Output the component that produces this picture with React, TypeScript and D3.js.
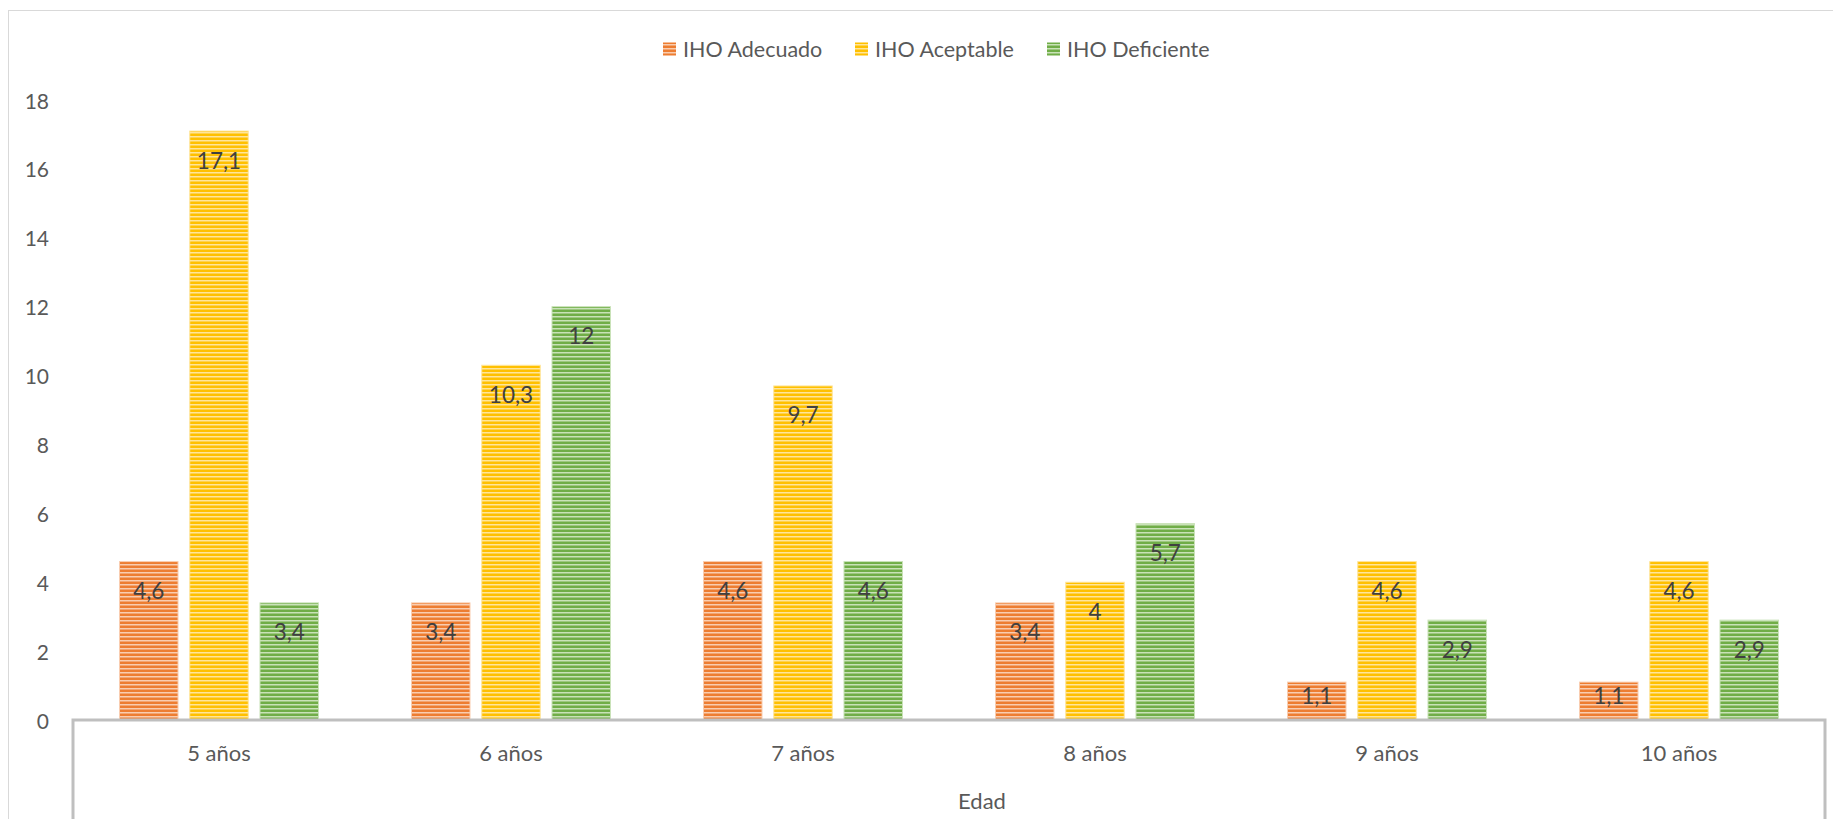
import React from "react";
import * as d3 from "d3";

const categories = ["5 años", "6 años", "7 años", "8 años", "9 años", "10 años"];
const seriesNames = ["IHO Adecuado", "IHO Aceptable", "IHO Deficiente"];
const adecuado = [4.6, 3.4, 4.6, 3.4, 1.1, 1.1];
const aceptable = [17.1, 10.3, 9.7, 4, 4.6, 4.6];
const deficiente = [3.4, 12, 4.6, 5.7, 2.9, 2.9];
const yTicks = [0, 2, 4, 6, 8, 10, 12, 14, 16, 18];
const axisTitle = "Edad";

const colors = ["#ED7D31", "#FFC000", "#70AD47"];
const lightColors = ["#F9CDB0", "#FFE59A", "#C9E2B8"];

const W = 1833;
const H = 819;
const FONT = "Lato, 'Open Sans', sans-serif";

export default function App() {
  const seriesValues = [adecuado, aceptable, deficiente];
  const plotLeft = 73;
  const plotRight = 1825;
  const baseY = 720;
  const y = d3.scaleLinear().domain([0, 18]).range([baseY, baseY - 18 * 34.44]);
  const x0 = d3
    .scaleBand<string>()
    .domain(categories)
    .range([plotLeft, plotRight])
    .paddingInner(0.3185)
    .paddingOuter(0.3185 / 2);
  const x1 = d3
    .scaleBand<string>()
    .domain(seriesNames)
    .range([0, x0.bandwidth()])
    .paddingInner(0.167)
    .paddingOuter(0);

  const legendX = [663, 855, 1047];
  const fmt = (v: number) => String(v).replace(".", ",");

  return (
    <div style={{ position: "absolute", left: 0, top: 0 }}>
      <svg width={W} height={H} style={{ display: "block", fontFamily: FONT }}>
        <defs>
          {colors.map((c, i) => (
            <pattern
              key={i}
              id={`stripe${i}`}
              patternUnits="userSpaceOnUse"
              width={8}
              height={4}
            >
              <rect x={0} y={0} width={8} height={4} fill={c} />
              <rect x={0} y={0} width={8} height={1.5} fill={lightColors[i]} />
            </pattern>
          ))}
        </defs>
        <rect x={0} y={0} width={W} height={H} fill="#ffffff" />
        <rect x={8.5} y={10.5} width={W + 100} height={H + 100} fill="none" stroke="#D9D9D9" strokeWidth={1} />

        {/* Legend */}
        {seriesNames.map((s, i) => (
          <g key={s}>
            <rect x={legendX[i]} y={42.5} width={13} height={13} fill={`url(#stripe${i})`} />
            <text x={legendX[i] + 20} y={49} dominantBaseline="central" fontSize={21.5} fill="#595959">
              {s}
            </text>
          </g>
        ))}

        {/* Y axis labels */}
        {yTicks.map((t) => (
          <text key={t} x={49} y={y(t)} textAnchor="end" dominantBaseline="central" fontSize={21} fill="#595959">
            {t}
          </text>
        ))}

        {/* Bars */}
        {categories.map((cat, ci) => (
          <g key={cat} transform={`translate(${x0(cat)},0)`}>
            {seriesNames.map((s, si) => {
              const v = seriesValues[si][ci];
              const top = y(v);
              const bx = x1(s) as number;
              const bw = x1.bandwidth();
              const ly = Math.min(top + 29, top + (baseY - top) / 2 - 6);
              return (
                <g key={s}>
                  <rect
                    x={bx}
                    y={top}
                    width={bw}
                    height={baseY - top}
                    fill={`url(#stripe${si})`}
                    stroke={lightColors[si]}
                    strokeWidth={1}
                  />
                  <text
                    x={bx + bw / 2}
                    y={ly}
                    textAnchor="middle"
                    dominantBaseline="central"
                    fontSize={22.5}
                    fill="#404040"
                  >
                    {fmt(v)}
                  </text>
                </g>
              );
            })}
          </g>
        ))}

        {/* Category axis */}
        <path
          d={`M${plotLeft},${H} V${baseY} H${plotRight} V${H}`}
          fill="none"
          stroke="#BFBFBF"
          strokeWidth={3}
        />
        {categories.map((cat) => (
          <text
            key={cat}
            x={(x0(cat) as number) + x0.bandwidth() / 2}
            y={752}
            textAnchor="middle"
            dominantBaseline="central"
            fontSize={22}
            fill="#595959"
          >
            {cat}
          </text>
        ))}
        <text x={982} y={800} textAnchor="middle" dominantBaseline="central" fontSize={22} fill="#595959">
          {axisTitle}
        </text>
      </svg>
    </div>
  );
}
